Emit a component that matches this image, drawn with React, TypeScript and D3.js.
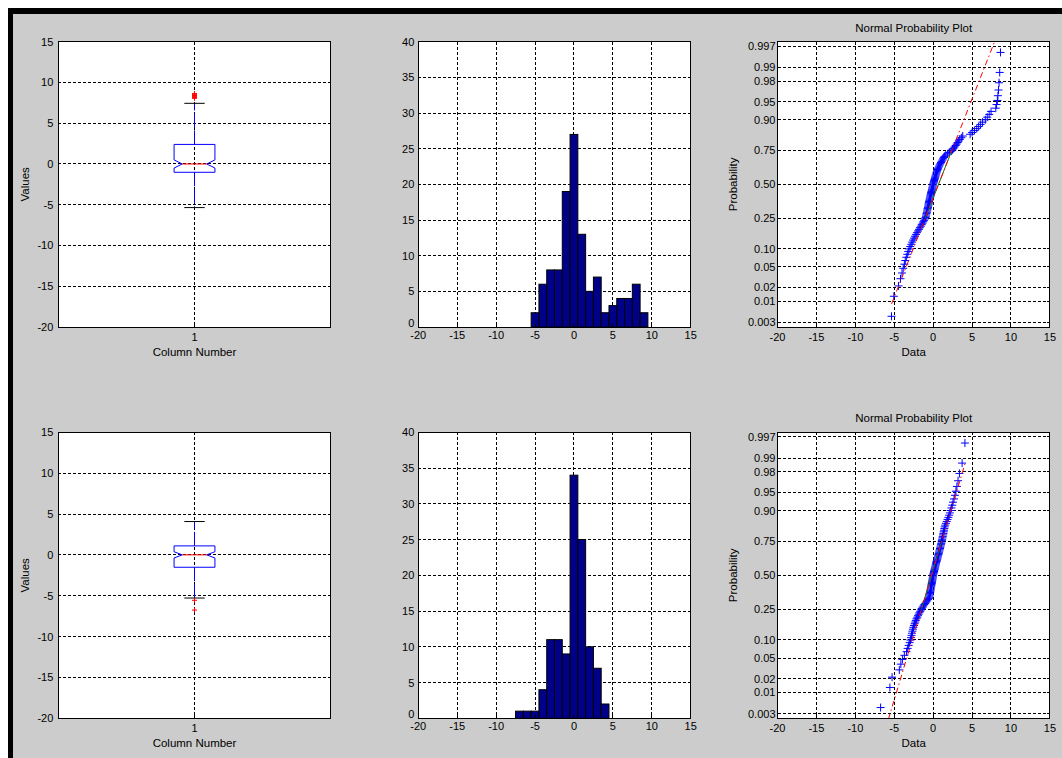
import React from "react";
import * as d3 from "d3";

// ---------- data ----------
const sample1 = [
  -5.35, -5.05,
  -4.45, -4.2, -4.0, -3.85, -3.7, -3.58,
  -3.45, -3.32, -3.2, -3.08, -2.95, -2.82, -2.7, -2.58,
  -2.45, -2.33, -2.2, -2.08, -1.95, -1.82, -1.7, -1.58,
  -1.46, -1.36, -1.26, -1.16, -1.06, -0.98, -0.93, -0.89, -0.85, -0.81, -0.77, -0.74, -0.71, -0.67, -0.64, -0.61, -0.58, -0.55, -0.52,
  -0.48, -0.45, -0.41, -0.38, -0.35, -0.32, -0.28, -0.25, -0.22, -0.18, -0.15, -0.12, -0.08, -0.05, -0.02,
  0.02, 0.06, 0.1, 0.14, 0.18, 0.22, 0.26, 0.3, 0.34, 0.39, 0.43, 0.47,
  0.52, 0.58, 0.64, 0.71, 0.78, 0.85, 0.93, 1.01, 1.09, 1.18, 1.27, 1.36, 1.45,
  1.62, 1.85, 2.08, 2.32, 2.48,
  2.6, 2.75, 2.9, 3.02, 3.15, 3.28, 3.42,
  3.62, 3.8,
  4.75, 5.0, 5.3,
  5.6, 5.85, 6.1, 6.35,
  6.7, 6.95, 7.2, 7.44,
  8.05, 8.15, 8.25, 8.32, 8.4, 8.47,
  8.55, 8.65,
];

const sample2 = [
  -6.75,
  -5.56,
  -5.28,
  -4.35, -4.15, -3.95, -3.7,
  -3.42, -3.28, -3.15, -3.02, -2.92, -2.84, -2.78, -2.72, -2.66, -2.6, -2.54,
  -2.46, -2.38, -2.3, -2.22, -2.13, -2.04, -1.95, -1.86, -1.76, -1.66, -1.56,
  -1.47, -1.36, -1.25, -1.14, -1.02, -0.9, -0.78, -0.66, -0.55,
  -0.48, -0.46, -0.43, -0.41, -0.38, -0.36, -0.33, -0.31, -0.28, -0.26, -0.23, -0.21, -0.18, -0.16, -0.13, -0.11, -0.08, -0.06, -0.03, -0.01,
  0.01, 0.05, 0.08, 0.12, 0.15, 0.19, 0.22, 0.26, 0.29, 0.33, 0.36, 0.4, 0.43, 0.47,
  0.52, 0.56, 0.6, 0.64, 0.68, 0.72, 0.76, 0.8, 0.84, 0.88, 0.92, 0.96, 1.0, 1.04, 1.08, 1.12, 1.16, 1.2, 1.24, 1.28, 1.32, 1.36, 1.4, 1.44, 1.48,
  1.55, 1.65, 1.75, 1.85, 1.95, 2.05, 2.15, 2.25, 2.35, 2.45,
  2.55, 2.68, 2.8, 2.92, 3.05, 3.2, 3.38,
  3.72, 4.08,
];

const histCenters1 = [-5, -4, -3, -2, -1, 0, 1, 2, 3, 4, 5, 6, 7, 8, 9];
const histCounts1 = [2, 6, 8, 8, 19, 27, 13, 5, 7, 2, 3, 4, 4, 6, 2];
const histCenters2 = [-7, -6, -5, -4, -3, -2, -1, 0, 1, 2, 3, 4];
const histCounts2 = [1, 1, 1, 4, 11, 11, 9, 34, 25, 10, 7, 2];

const valueTicks = [-20, -15, -10, -5, 0, 5, 10, 15];
const countTicks = [0, 5, 10, 15, 20, 25, 30, 35, 40];
const probTicks = [0.003, 0.01, 0.02, 0.05, 0.1, 0.25, 0.5, 0.75, 0.9, 0.95, 0.98, 0.99, 0.997];
const probLabels = ["0.003", "0.01", "0.02", "0.05", "0.10", "0.25", "0.50", "0.75", "0.90", "0.95", "0.98", "0.99", "0.997"];
const boxTicks = [1];

// ---------- layout / style ----------
const FONT = "'Liberation Sans', Arial, Helvetica, sans-serif";
const TICK_FS = 11;
const LABEL_FS = 11.5;
const COLS = [58.3, 418.3, 777.5];
const ROWS = [
  { top: 41.7, h: 285.3 },
  { top: 432.3, h: 286 },
];
const AW = 272.4;
const GRID_DASH = "3,2";
const BAR_FILL = "#000088";

// ---------- helpers ----------
function norminv(p: number): number {
  const a = [-3.969683028665376e1, 2.209460984245205e2, -2.759285104469687e2, 1.38357751867269e2, -3.066479806614716e1, 2.506628277459239];
  const b = [-5.447609879822406e1, 1.615858368580409e2, -1.556989798598866e2, 6.680131188771972e1, -1.328068155288572e1];
  const c = [-7.784894002430293e-3, -3.223964580411365e-1, -2.400758277161838, -2.549732539343734, 4.374664141464968, 2.938163982698783];
  const d = [7.784695709041462e-3, 3.224671290700398e-1, 2.445134137142996, 3.754408661907416];
  const plow = 0.02425;
  if (p < plow) {
    const q = Math.sqrt(-2 * Math.log(p));
    return (((((c[0] * q + c[1]) * q + c[2]) * q + c[3]) * q + c[4]) * q + c[5]) / ((((d[0] * q + d[1]) * q + d[2]) * q + d[3]) * q + 1);
  }
  if (p <= 1 - plow) {
    const q = p - 0.5;
    const r = q * q;
    return ((((((a[0] * r + a[1]) * r + a[2]) * r + a[3]) * r + a[4]) * r + a[5]) * q) / (((((b[0] * r + b[1]) * r + b[2]) * r + b[3]) * r + b[4]) * r + 1);
  }
  const q = Math.sqrt(-2 * Math.log(1 - p));
  return -(((((c[0] * q + c[1]) * q + c[2]) * q + c[3]) * q + c[4]) * q + c[5]) / ((((d[0] * q + d[1]) * q + d[2]) * q + d[3]) * q + 1);
}

// MATLAB-style percentile
function prctile(s: number[], p: number): number {
  const n = s.length;
  const pos = n * p + 0.5;
  if (pos <= 1) return s[0];
  if (pos >= n) return s[n - 1];
  const lo = Math.floor(pos);
  const f = pos - lo;
  return s[lo - 1] * (1 - f) + s[lo] * f;
}

function Frame({ x0, top, h }: { x0: number; top: number; h: number }) {
  return <rect x={x0} y={top} width={AW} height={h} fill="none" stroke="#000" strokeWidth={1} shapeRendering="crispEdges" />;
}

function HGrid({ x0, ys }: { x0: number; ys: number[] }) {
  return (
    <g>
      {ys.map((y, i) => (
        <line key={i} x1={x0} x2={x0 + AW} y1={y} y2={y} stroke="#000" strokeDasharray={GRID_DASH} shapeRendering="crispEdges" />
      ))}
    </g>
  );
}
function VGrid({ top, h, xs }: { top: number; h: number; xs: number[] }) {
  return (
    <g>
      {xs.map((x, i) => (
        <line key={i} x1={x} x2={x} y1={top} y2={top + h} stroke="#000" strokeDasharray={GRID_DASH} shapeRendering="crispEdges" />
      ))}
    </g>
  );
}

function YTicks({ x0, ys, labels, gap, lift }: { x0: number; ys: number[]; labels: string[]; gap: number; lift?: number[] }) {
  return (
    <g fontFamily={FONT} fontSize={TICK_FS} fill="#000" textAnchor="end">
      {ys.map((y, i) => (
        <g key={i}>
          <line x1={x0} x2={x0 + 3} y1={y} y2={y} stroke="#000" shapeRendering="crispEdges" />
          <line x1={x0 + AW} x2={x0 + AW - 3} y1={y} y2={y} stroke="#000" shapeRendering="crispEdges" />
          <text x={x0 - gap} y={y - (lift ? lift[i] : 0)} dy="0.36em">
            {labels[i]}
          </text>
        </g>
      ))}
    </g>
  );
}
function XTicks({ top, h, xs, labels, dy }: { top: number; h: number; xs: number[]; labels: string[]; dy: number }) {
  return (
    <g fontFamily={FONT} fontSize={TICK_FS} fill="#000" textAnchor="middle">
      {xs.map((x, i) => (
        <g key={i}>
          <line x1={x} x2={x} y1={top + h} y2={top + h - 3} stroke="#000" shapeRendering="crispEdges" />
          <line x1={x} x2={x} y1={top} y2={top + 3} stroke="#000" shapeRendering="crispEdges" />
          <text x={x} y={top + h + dy}>
            {labels[i]}
          </text>
        </g>
      ))}
    </g>
  );
}

function Plus({ x, y, r, color }: { x: number; y: number; r: number; color: string }) {
  return <path d={`M${x - r},${y}H${x + r}M${x},${y - r}V${y + r}`} stroke={color} strokeWidth={1} fill="none" />;
}

// ---------- panels ----------
function BoxPanel({ data, row }: { data: number[]; row: number }) {
  const { top, h } = ROWS[row];
  const x0 = COLS[0];
  const xS = d3.scaleLinear().domain([0.5, 1.5]).range([x0, x0 + AW]);
  const yS = d3.scaleLinear().domain([-20, 15]).range([top + h, top]);
  const s = [...data].sort(d3.ascending);
  const n = s.length;
  const q1 = prctile(s, 0.25);
  const med = prctile(s, 0.5);
  const q3 = prctile(s, 0.75);
  const iqr = q3 - q1;
  const hiFence = q3 + 1.5 * iqr;
  const loFence = q1 - 1.5 * iqr;
  const upper = d3.max(s.filter((v) => v <= hiFence)) as number;
  const lower = d3.min(s.filter((v) => v >= loFence)) as number;
  const outliers = s.filter((v) => v > hiFence || v < loFence);
  const notch = (1.57 * iqr) / Math.sqrt(n);
  const half = 0.075;
  const indent = 0.03;
  const cap = 0.0375;
  const cx = xS(1);
  const L = xS(1 - half), R = xS(1 + half);
  const Li = xS(1 - half + indent), Ri = xS(1 + half - indent);
  const boxPath = [
    [L, yS(q3)], [R, yS(q3)], [R, yS(med + notch)], [Ri, yS(med)], [R, yS(med - notch)], [R, yS(q1)],
    [L, yS(q1)], [L, yS(med - notch)], [Li, yS(med)], [L, yS(med + notch)],
  ];
  const line = d3.line();
  return (
    <g>
      <rect x={x0} y={top} width={AW} height={h} fill="#fff" />
      <HGrid x0={x0} ys={valueTicks.map(yS)} />
      <VGrid top={top} h={h} xs={boxTicks.map((t) => xS(t))} />
      <line x1={cx} x2={cx} y1={yS(q3)} y2={yS(upper)} stroke="#0000ff" strokeDasharray="14,3" />
      <line x1={cx} x2={cx} y1={yS(q1)} y2={yS(lower)} stroke="#0000ff" strokeDasharray="14,3" />
      <line x1={xS(1 - cap)} x2={xS(1 + cap)} y1={yS(upper)} y2={yS(upper)} stroke="#000" />
      <line x1={xS(1 - cap)} x2={xS(1 + cap)} y1={yS(lower)} y2={yS(lower)} stroke="#000" />
      <path d={line(boxPath as [number, number][]) + "Z"} fill="none" stroke="#0000ff" />
      <line x1={Li} x2={Ri} y1={yS(med)} y2={yS(med)} stroke="#ff0000" />
      {outliers.map((v, i) => (
        <Plus key={i} x={cx} y={yS(v)} r={2.5} color="#ff0000" />
      ))}
      <Frame x0={x0} top={top} h={h} />
      <YTicks x0={x0} ys={valueTicks.map(yS)} labels={valueTicks.map(String)} gap={5} />
      <XTicks top={top} h={h} xs={boxTicks.map((t) => xS(t))} labels={boxTicks.map(String)} dy={14} />
      <text x={cx} y={top + h + 29} fontFamily={FONT} fontSize={LABEL_FS} textAnchor="middle" fill="#000">
        Column Number
      </text>
      <text transform={`translate(${x0 - 29},${top + h / 2}) rotate(-90)`} fontFamily={FONT} fontSize={LABEL_FS} textAnchor="middle" fill="#000">
        Values
      </text>
    </g>
  );
}

function HistPanel({ centers, counts, row }: { centers: number[]; counts: number[]; row: number }) {
  const { top, h } = ROWS[row];
  const x0 = COLS[1];
  const xS = d3.scaleLinear().domain([-20, 15]).range([x0, x0 + AW]);
  const yS = d3.scaleLinear().domain([0, 40]).range([top + h, top]);
  return (
    <g>
      <rect x={x0} y={top} width={AW} height={h} fill="#fff" />
      <HGrid x0={x0} ys={countTicks.map(yS)} />
      <VGrid top={top} h={h} xs={valueTicks.map(xS)} />
      {centers.map((c, i) => (
        <rect
          key={i}
          x={xS(c - 0.5)}
          y={yS(counts[i])}
          width={xS(c + 0.5) - xS(c - 0.5)}
          height={yS(0) - yS(counts[i])}
          fill={BAR_FILL}
          stroke="#000"
          strokeWidth={1}
        />
      ))}
      <Frame x0={x0} top={top} h={h} />
      <YTicks x0={x0} ys={countTicks.map(yS)} labels={countTicks.map(String)} gap={4} lift={countTicks.map((t) => (t === 0 ? 4 : 0))} />
      <XTicks top={top} h={h} xs={valueTicks.map(xS)} labels={valueTicks.map(String)} dy={11.5} />
    </g>
  );
}

function NormPanel({ data, row }: { data: number[]; row: number }) {
  const { top, h } = ROWS[row];
  const x0 = COLS[2];
  const xS = d3.scaleLinear().domain([-20, 15]).range([x0, x0 + AW]);
  const yS = d3.scaleLinear().domain([-2.84, 2.84]).range([top + h, top]);
  const s = [...data].sort(d3.ascending);
  const n = s.length;
  const zs = s.map((_, i) => norminv((i + 0.5) / n));
  const q1x = prctile(s, 0.25), q3x = prctile(s, 0.75);
  const q1y = prctile(zs, 0.25), q3y = prctile(zs, 0.75);
  const slope = (q3y - q1y) / (q3x - q1x);
  const cxv = (q1x + q3x) / 2, cyv = (q1y + q3y) / 2;
  const minx = s[0], maxx = s[n - 1];
  const miny = cyv - slope * (cxv - minx);
  const maxy = cyv + slope * (maxx - cxv);
  const clipId = `np${row}`;
  return (
    <g>
      <defs>
        <clipPath id={clipId}>
          <rect x={x0} y={top} width={AW} height={h} />
        </clipPath>
      </defs>
      <rect x={x0} y={top} width={AW} height={h} fill="#fff" />
      <HGrid x0={x0} ys={probTicks.map((p) => yS(norminv(p)))} />
      <VGrid top={top} h={h} xs={valueTicks.map(xS)} />
      <g clipPath={`url(#${clipId})`}>
        {s.map((v, i) => (
          <Plus key={i} x={xS(v)} y={yS(zs[i])} r={4} color="#0000ff" />
        ))}
        <line x1={xS(q1x)} y1={yS(q1y)} x2={xS(q3x)} y2={yS(q3y)} stroke="#008000" />
        <line x1={xS(minx)} y1={yS(miny)} x2={xS(maxx)} y2={yS(maxy)} stroke="#ff0000" strokeDasharray="6,3,1.5,3" />
      </g>
      <Frame x0={x0} top={top} h={h} />
      <YTicks x0={x0} ys={probTicks.map((p) => yS(norminv(p)))} labels={probLabels} gap={2} />
      <XTicks top={top} h={h} xs={valueTicks.map(xS)} labels={valueTicks.map(String)} dy={14} />
      <text x={x0 + AW / 2} y={top + h + 29} fontFamily={FONT} fontSize={LABEL_FS} textAnchor="middle" fill="#000">
        Data
      </text>
      <text transform={`translate(${x0 - 41},${top + h / 2}) rotate(-90)`} fontFamily={FONT} fontSize={LABEL_FS} textAnchor="middle" fill="#000">
        Probability
      </text>
      <text x={x0 + AW / 2} y={top - 10} fontFamily={FONT} fontSize={LABEL_FS} textAnchor="middle" fill="#000">
        Normal Probability Plot
      </text>
    </g>
  );
}

export default function App() {
  return (
    <svg
      width={1062}
      height={758}
      style={{ position: "fixed", left: 0, top: 0, display: "block" }}
      xmlns="http://www.w3.org/2000/svg"
    >
      <rect x={0} y={0} width={1062} height={758} fill="#fff" />
      <rect x={8} y={8} width={1054} height={750} fill="#000" />
      <rect x={13} y={14} width={1049} height={744} fill="#cccccc" />
      <BoxPanel data={sample1} row={0} />
      <HistPanel centers={histCenters1} counts={histCounts1} row={0} />
      <NormPanel data={sample1} row={0} />
      <BoxPanel data={sample2} row={1} />
      <HistPanel centers={histCenters2} counts={histCounts2} row={1} />
      <NormPanel data={sample2} row={1} />
    </svg>
  );
}
